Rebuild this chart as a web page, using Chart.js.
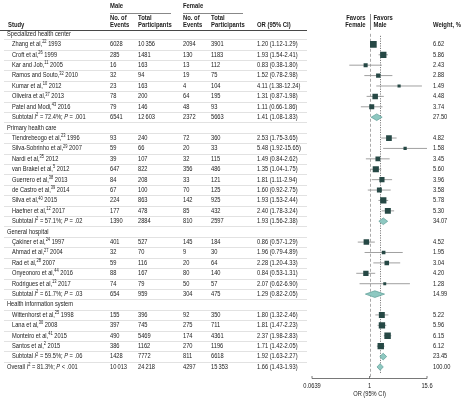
<!DOCTYPE html>
<html lang="en">
<head>
<meta charset="UTF-8" />
<title>Forest plot</title>
<script src="https://cdn.jsdelivr.net/npm/chart.js"></script>
<style>
  html, body { margin: 0; padding: 0; background: #fff; }
  canvas { display: block; }
</style>
</head>
<body>
<canvas id="forest" width="467" height="403"></canvas>
<script>
// one entry per row, top to bottom
const rowLabels = [
  'Specialized health center',
  'Zhang et al,^22^ 1993',
  'Croft et al,^26^ 1999',
  'Kar and Job,^11^ 2005',
  'Ramos and Souto,^32^ 2010',
  'Kumar et al,^10^ 2012',
  'Oliveira et al,^37^ 2013',
  'Patel and Modi,^43^ 2016',
  'Subtotal _I_^2^ = 72.4%; _P_ = .001',
  'Primary health care',
  'Tiendrebeogo et al,^23^ 1996',
  'Silva-Sobrinho et al,^29^ 2007',
  'Nardi et al,^35^ 2012',
  'van Brakel et al,^5^ 2012',
  'Guerrero et al,^38^ 2013',
  'de Castro et al,^39^ 2014',
  'Silva et al,^40^ 2015',
  'Haefner et al,^12^ 2017',
  'Subtotal _I_^2^ = 57.1%; _P_ = .02',
  'General hospital',
  'Çakiner et al,^24^ 1997',
  'Ahmad et al,^27^ 2004',
  'Rad et al,^28^ 2007',
  'Onyeonoro et al,^44^ 2016',
  'Rodrigues et al,^13^ 2017',
  'Subtotal _I_^2^ = 61.7%; _P_ = .03',
  'Health information system',
  'Wittenhorst et al,^25^ 1998',
  'Lana et al,^30^ 2008',
  'Monteiro et al,^41^ 2015',
  'Santos et al,^2^ 2015',
  'Subtotal _I_^2^ = 59.5%; _P_ = .06',
  'Overall _I_^2^ = 81.3%; _P_ < .001'
];
const maleEvents   = [null, 6028, 285, 16, 32, 23, 78, 79, 6541, null, 93, 59, 39, 647, 84, 67, 224, 177, 1390, null, 401, 32, 59, 88, 74, 654, null, 155, 397, 490, 386, 1428, 10013];
const maleTotal    = [null, 10356, 1481, 163, 94, 163, 200, 146, 12603, null, 240, 66, 107, 822, 208, 100, 863, 478, 2884, null, 527, 70, 116, 167, 79, 959, null, 396, 745, 5469, 1162, 7772, 24218];
const femaleEvents = [null, 2094, 130, 13, 19, 4, 64, 48, 2372, null, 72, 20, 32, 356, 33, 70, 142, 85, 810, null, 145, 9, 20, 80, 50, 304, null, 92, 275, 174, 270, 811, 4297];
const femaleTotal  = [null, 3901, 1183, 112, 75, 104, 195, 93, 5663, null, 360, 33, 115, 486, 121, 125, 925, 432, 2597, null, 184, 30, 64, 140, 57, 475, null, 350, 711, 4361, 1196, 6618, 15353];
const orEst  = [null, 1.20, 1.93, 0.83, 1.52, 4.11, 1.31, 1.11, 1.41, null, 2.53, 5.48, 1.49, 1.35, 1.81, 1.60, 1.93, 2.40, 1.93, null, 0.86, 1.96, 2.28, 0.84, 2.07, 1.29, null, 1.80, 1.81, 2.37, 1.71, 1.92, 1.66];
const orLow  = [null, 1.12, 1.54, 0.38, 0.78, 1.38, 0.87, 0.66, 1.08, null, 1.75, 1.92, 0.84, 1.04, 1.11, 0.92, 1.53, 1.78, 1.56, null, 0.57, 0.79, 1.20, 0.53, 0.62, 0.82, null, 1.32, 1.47, 1.98, 1.42, 1.63, 1.43];
const orHigh = [null, 1.29, 2.41, 1.80, 2.98, 12.24, 1.98, 1.86, 1.83, null, 3.65, 15.65, 2.62, 1.75, 2.94, 2.75, 2.44, 3.24, 2.38, null, 1.29, 4.89, 4.33, 1.31, 6.90, 2.05, null, 2.46, 2.23, 2.83, 2.05, 2.27, 1.93];
const weights = [null, 6.62, 5.86, 2.43, 2.88, 1.49, 4.48, 3.74, 27.50, null, 4.82, 1.58, 3.45, 5.60, 3.96, 3.58, 5.78, 5.30, 34.07, null, 4.52, 1.95, 3.04, 4.20, 1.28, 14.99, null, 5.22, 5.96, 6.15, 6.12, 23.45, 100.00];
const axisTicks = [0.0639, 1, 15.6];
const axisTickLabels = ['0.0639', '1', '15.6'];

const kindOf = i => rowLabels[i].startsWith('Subtotal') ? 't'
  : rowLabels[i].startsWith('Overall') ? 'o'
  : orEst[i] == null ? 'h' : 's';
const rows = rowLabels.map((_, i) => i);
const studyRows = rows.filter(i => kindOf(i) === 's');
const pooledRows = rows.filter(i => kindOf(i) === 't' || kindOf(i) === 'o');
const overallRow = rows.find(i => kindOf(i) === 'o');

const FONT = '"Liberation Sans", Arial, sans-serif';
const SX = 0.84; // horizontal squeeze, the figure uses a narrow face
const TEXT = '#1c1c1c';
const SQUARE = '#264845';
const DIAMOND = '#8ec8c1';
const DIAMOND_EDGE = '#5b9c95';
const WHISKER = '#959595';

function parseRich(s) {
  return s.split(/(\^[^^]*\^|_[^_]*_)/).filter(Boolean).map(p => {
    if (p[0] === '^') return { t: p.slice(1, -1), sup: true };
    if (p[0] === '_') return { t: p.slice(1, -1), it: true };
    return { t: p };
  });
}

function segFont(seg, size, bold) {
  const sz = seg.sup ? size * 0.7 : size;
  return (seg.it ? 'italic ' : '') + (bold ? 'bold ' : '') + sz.toFixed(2) + 'px ' + FONT;
}

function drawText(ctx, str, x, y, o = {}) {
  const size = o.size || 6.8, bold = !!o.bold;
  const segs = parseRich(String(str));
  let w = 0;
  segs.forEach(s => { ctx.font = segFont(s, size, bold); s.w = ctx.measureText(s.t).width; w += s.w; });
  ctx.save();
  ctx.translate(x, y);
  ctx.scale(SX, 1);
  let cx = o.align === 'right' ? -w : o.align === 'center' ? -w / 2 : 0;
  ctx.fillStyle = o.color || TEXT;
  ctx.textBaseline = 'middle';
  ctx.textAlign = 'left';
  segs.forEach(s => {
    ctx.font = segFont(s, size, bold);
    ctx.fillText(s.t, cx, s.sup ? -size * 0.32 : 0);
    cx += s.w;
  });
  ctx.restore();
}

function fmtCount(n) {
  if (n == null) return '';
  const s = String(n);
  return n >= 10000 ? s.slice(0, -3) + '\u2009' + s.slice(-3) : s;
}

function line(ctx, x1, y1, x2, y2, color, width, dash) {
  ctx.save();
  ctx.strokeStyle = color;
  ctx.lineWidth = width;
  ctx.setLineDash(dash || []);
  ctx.beginPath();
  ctx.moveTo(x1, y1);
  ctx.lineTo(x2, y2);
  ctx.stroke();
  ctx.restore();
}

const col = { section: 7, study: 12, mEv: 110, mTot: 138, fEv: 183, fTot: 211, or: 257, wt: 433 };
const tableRight = 307;
const HEAD = { bold: true, size: 7 };

const forestTable = {
  id: 'forestTable',
  beforeDatasetsDraw(chart) {
    const ctx = chart.ctx;
    const xs = chart.scales.x, ys = chart.scales.y;
    // row separators
    rows.forEach(i => {
      const yb = Math.round((ys.getPixelForValue(i) + ys.getPixelForValue(i + 1)) / 2) + 0.5;
      if (i < rows.length - 1) line(ctx, 4, yb, tableRight, yb, '#d6d6d6', 0.7);
    });
    const top = chart.chartArea.top, bottom = chart.chartArea.bottom;
    const x1 = Math.round(xs.getPixelForValue(1)) + 0.5;
    line(ctx, x1, top + 4, x1, bottom, '#a0a0a0', 0.9, [3, 2]);
    const xo = Math.round(xs.getPixelForValue(orEst[overallRow])) + 0.5;
    line(ctx, xo, top + 6, xo, ys.getPixelForValue(overallRow) + 6, '#808080', 1, [1.2, 1.2]);
  },
  afterDraw(chart) {
    const ctx = chart.ctx;
    const xs = chart.scales.x, ys = chart.scales.y;

    // column headers
    drawText(ctx, 'Male', col.mEv, 6, HEAD);
    drawText(ctx, 'Female', col.fEv, 6, HEAD);
    line(ctx, col.mEv, 13.5, 171, 13.5, '#555', 0.7);
    line(ctx, col.fEv, 13.5, 243, 13.5, '#555', 0.7);
    [[col.mEv, 'No. of', 'Events'], [col.mTot, 'Total', 'Participants'],
     [col.fEv, 'No. of', 'Events'], [col.fTot, 'Total', 'Participants']].forEach(([x, a, b]) => {
      drawText(ctx, a, x, 18.5, HEAD);
      drawText(ctx, b, x, 25.5, HEAD);
    });
    drawText(ctx, 'Study', 8, 25.5, HEAD);
    drawText(ctx, 'OR (95% CI)', col.or, 25.5, HEAD);
    line(ctx, 0, 30.5, tableRight, 30.5, '#333', 0.9);

    const x1 = xs.getPixelForValue(1);
    drawText(ctx, 'Favors', x1 - 4, 18.5, { ...HEAD, align: 'right' });
    drawText(ctx, 'Female', x1 - 4, 25.5, { ...HEAD, align: 'right' });
    drawText(ctx, 'Favors', x1 + 4, 18.5, HEAD);
    drawText(ctx, 'Male', x1 + 4, 25.5, HEAD);
    line(ctx, Math.round(x1) + 0.5, 14, Math.round(x1) + 0.5, 30, '#555', 0.7);
    drawText(ctx, 'Weight, %', col.wt, 25.5, HEAD);

    // table body
    rows.forEach(i => {
      const y = ys.getPixelForValue(i);
      const k = kindOf(i);
      drawText(ctx, rowLabels[i], k === 'h' || k === 'o' ? col.section : col.study, y);
      if (k === 'h') return;
      drawText(ctx, fmtCount(maleEvents[i]), col.mEv, y);
      drawText(ctx, fmtCount(maleTotal[i]), col.mTot, y);
      drawText(ctx, fmtCount(femaleEvents[i]), col.fEv, y);
      drawText(ctx, fmtCount(femaleTotal[i]), col.fTot, y);
      drawText(ctx, orEst[i].toFixed(2) + ' (' + orLow[i].toFixed(2) + '-' + orHigh[i].toFixed(2) + ')', col.or, y);
      drawText(ctx, weights[i].toFixed(2), col.wt, y);
    });

    // x axis
    const ay = chart.chartArea.bottom + 0.5;
    const xa = xs.getPixelForValue(axisTicks[0]), xb = xs.getPixelForValue(axisTicks[axisTicks.length - 1]);
    line(ctx, xa, ay, xb, ay, '#555', 0.8);
    axisTicks.forEach((v, j) => {
      const px = xs.getPixelForValue(v);
      line(ctx, px, ay - 2.5, px, ay, '#555', 0.8);
      drawText(ctx, axisTickLabels[j], px, ay + 8, { align: 'center' });
    });
    drawText(ctx, 'OR (95% CI)', x1, ay + 15.5, { align: 'center' });
  }
};

const whiskerData = [];
studyRows.forEach(i => {
  whiskerData.push({ x: orLow[i], y: i }, { x: orHigh[i], y: i }, { x: null, y: null });
});

const datasets = [
  {
    label: 'CI',
    data: whiskerData,
    showLine: true,
    spanGaps: false,
    borderColor: WHISKER,
    borderWidth: 0.9,
    pointRadius: 0,
    order: 2
  },
  {
    label: 'Studies',
    data: studyRows.map(i => ({ x: orEst[i], y: i })),
    pointStyle: 'rect',
    pointRadius: studyRows.map(i => 2.6 * Math.sqrt(weights[i]) / Math.SQRT2),
    backgroundColor: SQUARE,
    borderWidth: 0,
    order: 1
  }
];
pooledRows.forEach(i => {
  datasets.push({
    label: rowLabels[i],
    data: [
      { x: orLow[i], y: i },
      { x: orEst[i], y: i - 0.32 },
      { x: orHigh[i], y: i },
      { x: orEst[i], y: i + 0.32 },
      { x: orLow[i], y: i }
    ],
    showLine: true,
    fill: 'shape',
    tension: 0,
    borderColor: DIAMOND_EDGE,
    backgroundColor: DIAMOND,
    borderWidth: 0.7,
    pointRadius: 0,
    order: 0
  });
});

new Chart(document.getElementById('forest'), {
  type: 'scatter',
  data: { datasets },
  options: {
    responsive: false,
    animation: false,
    events: [],
    layout: { padding: { left: 312, right: 40, top: 29.8, bottom: 25 } },
    plugins: { legend: { display: false }, tooltip: { enabled: false } },
    scales: {
      x: { type: 'logarithmic', min: 0.0639, max: 15.6, display: false },
      y: { type: 'linear', min: -0.4, max: 33.06, reverse: true, display: false }
    }
  },
  plugins: [forestTable]
});
</script>
</body>
</html>
